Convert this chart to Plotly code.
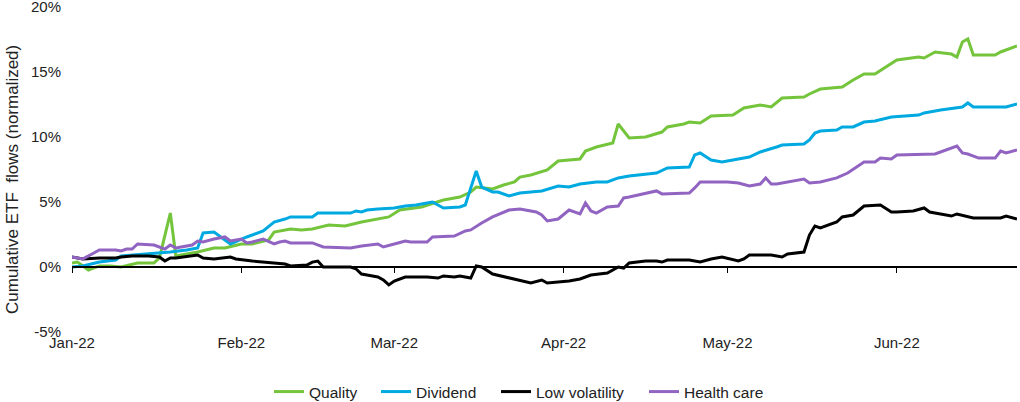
import plotly.graph_objects as go

# ---------------- data ----------------
quality_dates = ["2022-01-01","2022-01-02","2022-01-04","2022-01-06","2022-01-08","2022-01-10","2022-01-13",
    "2022-01-16","2022-01-17","2022-01-19","2022-01-20","2022-01-24","2022-01-27","2022-01-29","2022-02-01",
    "2022-02-03","2022-02-06","2022-02-07","2022-02-10","2022-02-12","2022-02-14","2022-02-17","2022-02-20",
    "2022-02-22","2022-02-23","2022-02-28","2022-03-02","2022-03-06","2022-03-10","2022-03-13","2022-03-15",
    "2022-03-16","2022-03-19","2022-03-21","2022-03-23","2022-03-24","2022-03-26","2022-03-29","2022-03-31",
    "2022-04-04","2022-04-05","2022-04-07","2022-04-10","2022-04-11","2022-04-13","2022-04-16","2022-04-19",
    "2022-04-20","2022-04-23","2022-04-24","2022-04-26","2022-04-28","2022-05-02","2022-05-04","2022-05-07",
    "2022-05-09","2022-05-11","2022-05-15","2022-05-16","2022-05-18","2022-05-22","2022-05-24","2022-05-26",
    "2022-05-28","2022-05-30","2022-06-01","2022-06-05","2022-06-06","2022-06-08","2022-06-11","2022-06-12",
    "2022-06-13","2022-06-14","2022-06-15","2022-06-19","2022-06-20","2022-06-23"]
quality_values = [0.31,0.38,-0.23,0.08,0.08,0.0,0.31,
    0.31,0.69,4.15,0.85,1.15,1.46,1.46,1.77,
    1.77,2.08,2.69,2.92,2.85,2.92,3.23,3.15,
    3.38,3.46,3.85,4.38,4.62,5.15,5.38,5.77,
    6.15,6.0,6.31,6.54,6.92,7.08,7.46,8.15,
    8.31,8.92,9.23,9.54,11.0,9.92,10.0,10.38,
    10.77,11.0,11.15,11.08,11.62,11.69,12.23,12.46,
    12.31,13.0,13.08,13.31,13.69,13.85,14.38,14.85,
    14.85,15.38,15.92,16.15,16.08,16.54,16.38,16.15,
    17.31,17.54,16.31,16.31,16.54,17.0]

dividend_dates = ["2022-01-01","2022-01-03","2022-01-06","2022-01-09","2022-01-10","2022-01-15","2022-01-19",
    "2022-01-22","2022-01-24","2022-01-25","2022-01-27","2022-01-30","2022-02-02","2022-02-05","2022-02-07",
    "2022-02-09","2022-02-10","2022-02-14","2022-02-15","2022-02-21","2022-02-22","2022-02-23","2022-02-24",
    "2022-02-26","2022-03-01","2022-03-03","2022-03-05","2022-03-07","2022-03-08","2022-03-10","2022-03-13",
    "2022-03-14","2022-03-16","2022-03-17","2022-03-19","2022-03-20","2022-03-22","2022-03-24","2022-03-28",
    "2022-03-31","2022-04-02","2022-04-04","2022-04-07","2022-04-09","2022-04-11","2022-04-13","2022-04-15",
    "2022-04-18","2022-04-20","2022-04-24","2022-04-25","2022-04-26","2022-04-28","2022-04-30","2022-05-05",
    "2022-05-07","2022-05-10","2022-05-11","2022-05-15","2022-05-16","2022-05-17","2022-05-18","2022-05-21",
    "2022-05-22","2022-05-24","2022-05-26","2022-05-28","2022-05-31","2022-06-05","2022-06-06","2022-06-09",
    "2022-06-13","2022-06-14","2022-06-15","2022-06-21","2022-06-23"]
dividend_values = [0.0,0.08,0.38,0.54,0.85,1.0,1.15,
    1.31,1.46,2.62,2.69,1.77,2.31,2.77,3.46,
    3.69,3.85,3.85,4.15,4.15,4.31,4.23,4.38,
    4.46,4.54,4.69,4.77,4.92,5.0,4.54,4.62,
    4.77,7.38,6.15,5.77,5.77,5.46,5.69,5.85,
    6.23,6.15,6.38,6.54,6.54,6.85,7.0,7.08,
    7.23,7.62,7.69,8.62,8.77,8.23,8.08,8.46,
    8.85,9.23,9.38,9.46,9.77,10.31,10.46,10.54,
    10.77,10.77,11.15,11.23,11.54,11.69,11.85,12.08,
    12.31,12.62,12.31,12.31,12.54]

lowvol_dates = ["2022-01-01","2022-01-03","2022-01-06","2022-01-09","2022-01-10","2022-01-12","2022-01-15",
    "2022-01-17","2022-01-18","2022-01-19","2022-01-20","2022-01-24","2022-01-25","2022-01-27","2022-01-30",
    "2022-01-31","2022-02-03","2022-02-07","2022-02-09","2022-02-10","2022-02-13","2022-02-14","2022-02-15",
    "2022-02-16","2022-02-21","2022-02-22","2022-02-23","2022-02-24","2022-02-26","2022-02-27","2022-02-28",
    "2022-03-01","2022-03-02","2022-03-03","2022-03-07","2022-03-09","2022-03-10","2022-03-12","2022-03-13",
    "2022-03-15","2022-03-16","2022-03-17","2022-03-19","2022-03-22","2022-03-23","2022-03-26","2022-03-28",
    "2022-03-29","2022-04-02","2022-04-04","2022-04-06","2022-04-09","2022-04-11","2022-04-12","2022-04-13",
    "2022-04-16","2022-04-18","2022-04-19","2022-04-20","2022-04-24","2022-04-26","2022-04-28","2022-04-30",
    "2022-05-03","2022-05-04","2022-05-05","2022-05-09","2022-05-11","2022-05-12","2022-05-15","2022-05-16",
    "2022-05-17","2022-05-18","2022-05-21","2022-05-22","2022-05-24","2022-05-26","2022-05-29","2022-05-31",
    "2022-06-01","2022-06-04","2022-06-06","2022-06-07","2022-06-10","2022-06-11","2022-06-12","2022-06-15",
    "2022-06-20","2022-06-21","2022-06-23"]
lowvol_values = [0.77,0.62,0.69,0.69,0.77,0.85,0.85,
    0.77,0.46,0.69,0.69,0.92,0.69,0.62,0.77,
    0.62,0.46,0.31,0.23,0.08,0.15,0.38,0.46,
    0.0,0.0,-0.15,-0.54,-0.62,-0.77,-1.0,-1.38,
    -1.08,-0.92,-0.77,-0.77,-0.85,-0.69,-0.77,-0.69,
    -0.85,0.08,0.0,-0.54,-0.85,-0.92,-1.23,-1.0,
    -1.23,-1.08,-0.92,-0.62,-0.46,0.0,-0.08,0.31,
    0.46,0.46,0.38,0.54,0.54,0.38,0.62,0.77,
    0.46,0.62,0.92,0.92,0.77,1.0,1.15,2.46,
    3.15,3.0,3.46,3.85,4.0,4.69,4.77,4.23,
    4.23,4.31,4.54,4.23,4.0,3.92,4.08,3.77,
    3.77,3.92,3.69]

health_dates = ["2022-01-01","2022-01-03","2022-01-05","2022-01-06","2022-01-09","2022-01-10","2022-01-11",
    "2022-01-12","2022-01-13","2022-01-16","2022-01-17","2022-01-18","2022-01-19","2022-01-20","2022-01-23",
    "2022-01-24","2022-01-25","2022-01-27","2022-01-29","2022-01-30","2022-02-01","2022-02-02","2022-02-03",
    "2022-02-05","2022-02-07","2022-02-08","2022-02-09","2022-02-10","2022-02-14","2022-02-16","2022-02-21",
    "2022-02-23","2022-02-26","2022-02-27","2022-03-01","2022-03-03","2022-03-04","2022-03-07","2022-03-08",
    "2022-03-12","2022-03-14","2022-03-15","2022-03-17","2022-03-19","2022-03-22","2022-03-24","2022-03-27",
    "2022-03-28","2022-03-29","2022-03-31","2022-04-02","2022-04-04","2022-04-05","2022-04-06","2022-04-07",
    "2022-04-09","2022-04-11","2022-04-12","2022-04-13","2022-04-18","2022-04-19","2022-04-24","2022-04-25",
    "2022-04-26","2022-04-28","2022-05-01","2022-05-03","2022-05-05","2022-05-07","2022-05-08","2022-05-09",
    "2022-05-10","2022-05-15","2022-05-16","2022-05-18","2022-05-21","2022-05-23","2022-05-26","2022-05-28",
    "2022-05-29","2022-05-31","2022-06-01","2022-06-08","2022-06-12","2022-06-13","2022-06-14","2022-06-16",
    "2022-06-19","2022-06-20","2022-06-21","2022-06-23"]
health_values = [0.77,0.62,1.08,1.31,1.31,1.23,1.38,
    1.38,1.77,1.69,1.54,1.38,1.69,1.46,1.69,
    2.0,1.92,2.15,2.31,2.0,2.15,1.85,1.92,
    2.15,1.77,1.92,2.0,1.85,1.85,1.54,1.46,
    1.62,1.77,1.54,1.77,2.0,1.92,1.92,2.31,
    2.38,2.77,2.85,3.38,3.85,4.38,4.46,4.23,
    4.0,3.54,3.69,4.38,4.08,4.92,4.31,4.15,
    4.62,4.69,5.31,5.38,5.85,5.62,5.69,6.08,
    6.54,6.54,6.54,6.46,6.23,6.38,6.85,6.38,
    6.38,6.77,6.46,6.54,6.85,7.23,8.08,8.08,
    8.38,8.31,8.62,8.69,9.31,8.77,8.69,8.38,
    8.38,8.92,8.77,9.0]

series_names = ["Quality", "Dividend", "Low volatility", "Health care"]
series_colors = ["#74C43C", "#00A9E0", "#000000", "#9164C2"]

x_range = ["2022-01-01", "2022-06-23"]
y_range = [-5, 20]
y_ticks = [-5, 0, 5, 10, 15, 20]
y_ticktext = ["-5%", "0%", "5%", "10%", "15%", "20%"]
y_title = "Cumulative ETF  flows (normalized)"

FONT = "Liberation Sans, Arial, sans-serif"
TXT = "#222222"

# layout geometry (pixels)
W, H = 1020, 402
ML, MR, MT, MB = 72, 3, 7, 70
PW, PH = W - ML - MR, H - MT - MB
legend_px = [269, 376, 496, 644]   # left edge of each legend entry
legend_cy = 392                    # vertical centre of legend row
title_cx, title_cy = 13, 180       # centre of the rotated y title

# ---------------- figure ----------------
fig = go.Figure()
all_series = [(quality_dates, quality_values), (dividend_dates, dividend_values),
              (lowvol_dates, lowvol_values), (health_dates, health_values)]
legend_ids = ["legend", "legend2", "legend3", "legend4"]
for (d, v), name, col, lid in zip(all_series, series_names, series_colors, legend_ids):
    fig.add_trace(go.Scatter(x=d, y=v, mode="lines", name=name, legend=lid,
                             line=dict(color=col, width=3)))

# empty trace to register the zero-line axis
fig.add_trace(go.Scatter(x=[], y=[], xaxis="x2", showlegend=False, hoverinfo="skip"))

zero_pos = (0 - y_range[0]) / (y_range[1] - y_range[0])

legend_common = dict(orientation="h", xanchor="left", yanchor="middle",
                     y=-(legend_cy - (MT + PH)) / PH,
                     font=dict(size=15.5, color=TXT, family=FONT), itemwidth=30,
                     bgcolor="rgba(0,0,0,0)", borderwidth=0)
legends = {}
for lid, px in zip(legend_ids, legend_px):
    legends[lid] = dict(legend_common, x=(px - ML) / PW)

fig.update_layout(
    width=W, height=H,
    margin=dict(l=ML, r=MR, t=MT, b=MB, autoexpand=False),
    paper_bgcolor="white", plot_bgcolor="white",
    font=dict(family=FONT, size=15, color=TXT),
    showlegend=True,
    xaxis=dict(type="date", range=x_range, dtick="M1", tick0="2022-01-01",
               tickformat="%b-%y", showgrid=False, zeroline=False, showline=False,
               ticks="", automargin=False, tickfont=dict(size=15, color=TXT)),
    xaxis2=dict(type="date", range=x_range, dtick="M1", tick0="2022-01-01",
                overlaying="x", anchor="free", position=zero_pos,
                showline=True, linecolor="#000000", linewidth=1.5,
                ticks="outside", ticklen=5, tickwidth=1.2, tickcolor="#000000",
                showticklabels=False, showgrid=False, zeroline=False, automargin=False),
    yaxis=dict(range=y_range, tickvals=y_ticks, ticktext=y_ticktext, showgrid=False,
               zeroline=False, showline=False, ticks="", ticklabelstandoff=10,
               ticklabeloverflow="allow",
               automargin=False, tickfont=dict(size=15, color=TXT)),
    annotations=[dict(text=y_title, xref="paper", yref="paper",
                      x=(title_cx - ML) / PW, y=1 - (title_cy - MT) / PH,
                      xanchor="center", yanchor="middle",
                      textangle=-90, showarrow=False,
                      font=dict(size=17, color=TXT))],
    **legends,
)

fig.write_html("out.html", config={"displayModeBar": False},
               post_script="document.body.style.margin='0';document.body.style.overflow='hidden';")
